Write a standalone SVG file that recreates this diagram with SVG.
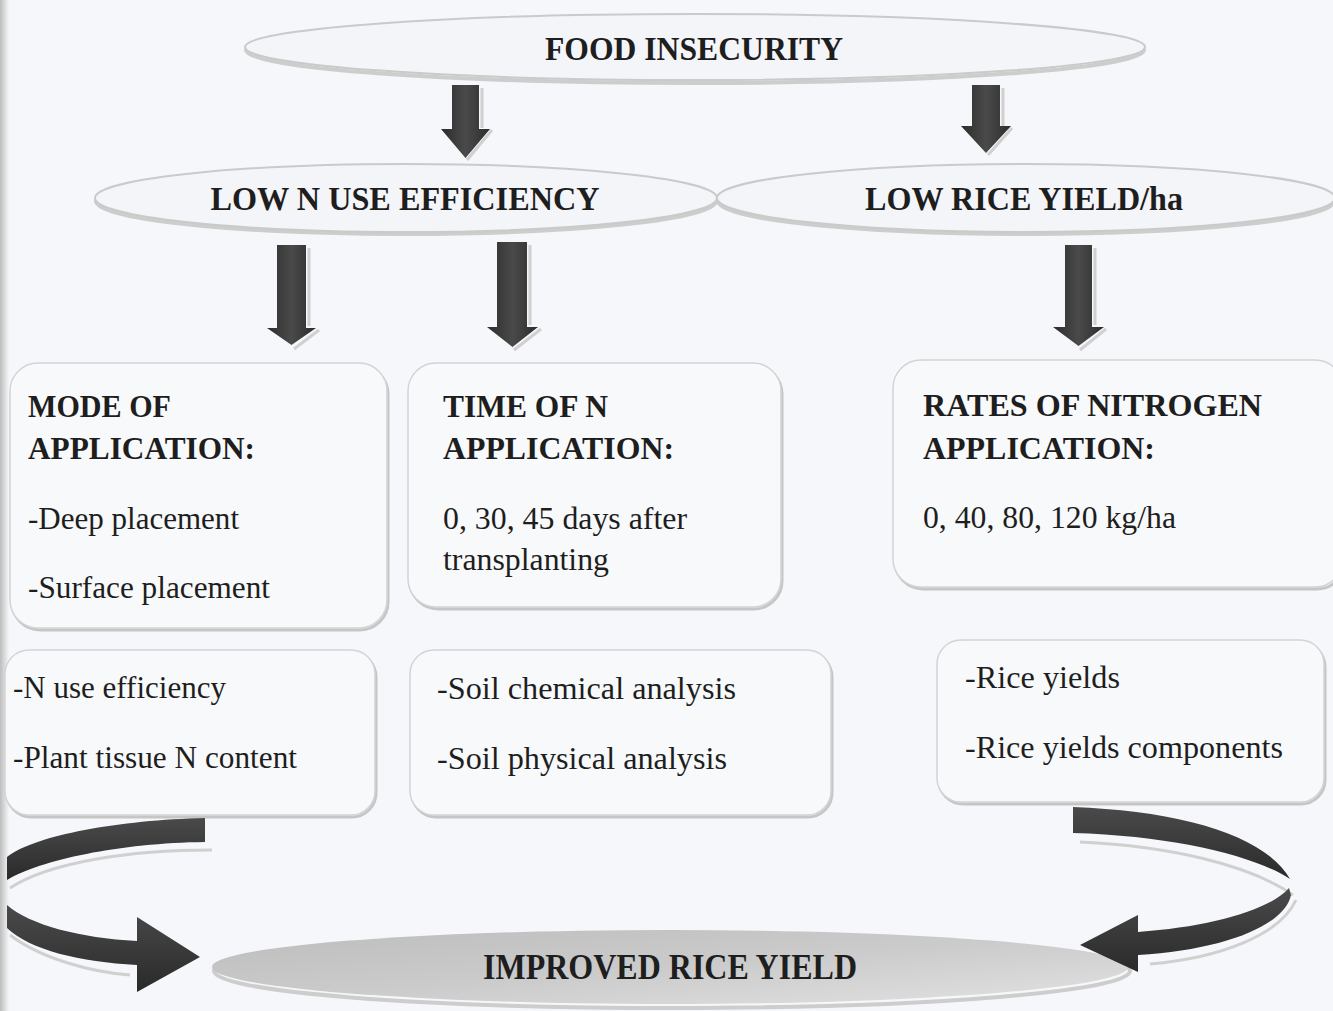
<svg xmlns="http://www.w3.org/2000/svg" width="1333" height="1011" viewBox="0 0 1333 1011">
<defs>
<style>
.hd{font-family:"Liberation Serif","Times New Roman",serif;font-weight:bold;fill:#1e1e1e}
.tx{font-family:"Liberation Serif","Times New Roman",serif;font-size:31px;fill:#1e1e1e}
.bh{font-family:"Liberation Serif","Times New Roman",serif;font-weight:bold;font-size:31px;fill:#1e1e1e}
.ell{fill:#f4f5f9;stroke:#cacaca;stroke-width:2}
.ellsh{fill:none;stroke:#cdcdcd;stroke-width:4}
.box{fill:#f8f9fb;stroke:#d4d4d6;stroke-width:1.5}
.boxsh{fill:none;stroke:#c6c6c6;stroke-width:3}
.arr{fill:url(#ag)}
.carr{fill:url(#cg)}
.sh{fill:none;stroke:#d0d0d0;stroke-width:3}
</style>
<linearGradient id="ag" x1="0" y1="0" x2="1" y2="0">
<stop offset="0" stop-color="#2c2c2c"/>
<stop offset="0.5" stop-color="#4a4a4a"/>
<stop offset="1" stop-color="#2c2c2c"/>
</linearGradient>
<linearGradient id="cg" x1="0" y1="0" x2="0" y2="1">
<stop offset="0" stop-color="#4a4a4a"/>
<stop offset="1" stop-color="#2a2a2a"/>
</linearGradient>
<linearGradient id="bg" x1="0" y1="0" x2="1" y2="1">
<stop offset="0" stop-color="#bdbdbd"/>
<stop offset="0.5" stop-color="#cbcbcb"/>
<stop offset="1" stop-color="#e2e2e2"/>
</linearGradient>
<linearGradient id="edge" x1="0" y1="0" x2="1" y2="0">
<stop offset="0" stop-color="#bdbdbd"/>
<stop offset="1" stop-color="#f6f7fa"/>
</linearGradient>
</defs>
<rect x="0" y="0" width="1333" height="1011" fill="#f6f7fa"/>
<rect x="0" y="0" width="9" height="1011" fill="url(#edge)"/>

<g id="food-insecurity">
<ellipse class="ellsh" cx="695" cy="50" rx="449" ry="33"/>
<ellipse class="ell" cx="695" cy="47" rx="450" ry="33"/>
<text class="hd" x="694" y="60" font-size="34" text-anchor="middle" textLength="298" lengthAdjust="spacingAndGlyphs">FOOD INSECURITY</text>
</g>

<g id="low-n-use-efficiency">
<ellipse class="ellsh" cx="406" cy="201" rx="310" ry="33"/>
<ellipse class="ell" cx="406" cy="198" rx="311" ry="34"/>
<text class="hd" x="405" y="210" font-size="34" text-anchor="middle" textLength="389" lengthAdjust="spacingAndGlyphs">LOW N USE EFFICIENCY</text>
</g>

<g id="low-rice-yield">
<ellipse class="ellsh" cx="1026" cy="201" rx="308" ry="33"/>
<ellipse class="ell" cx="1026" cy="198" rx="309" ry="34"/>
<text class="hd" x="1024" y="210" font-size="34" text-anchor="middle" textLength="318" lengthAdjust="spacingAndGlyphs">LOW RICE YIELD/ha</text>
</g>

<g id="mode-of-application">
<rect class="boxsh" x="12" y="366" width="376" height="264" rx="28"/>
<rect class="box" x="10" y="363" width="377" height="265" rx="28"/>
<text class="bh" x="28" y="417" textLength="143" lengthAdjust="spacingAndGlyphs">MODE OF</text>
<text class="bh" x="28" y="459" textLength="227" lengthAdjust="spacingAndGlyphs">APPLICATION:</text>
<text class="tx" x="28" y="529" textLength="211" lengthAdjust="spacingAndGlyphs">-Deep placement</text>
<text class="tx" x="28" y="598" textLength="242" lengthAdjust="spacingAndGlyphs">-Surface placement</text>
</g>

<g id="time-of-n-application">
<rect class="boxsh" x="410" y="366" width="372" height="243" rx="28"/>
<rect class="box" x="408" y="363" width="373" height="244" rx="28"/>
<text class="bh" x="443" y="417" textLength="165" lengthAdjust="spacingAndGlyphs">TIME OF N</text>
<text class="bh" x="443" y="459" textLength="231" lengthAdjust="spacingAndGlyphs">APPLICATION:</text>
<text class="tx" x="443" y="529" textLength="244" lengthAdjust="spacingAndGlyphs">0, 30, 45 days after</text>
<text class="tx" x="443" y="570" textLength="166" lengthAdjust="spacingAndGlyphs">transplanting</text>
</g>

<g id="rates-of-nitrogen">
<rect class="boxsh" x="895" y="363" width="450" height="226" rx="28"/>
<rect class="box" x="893" y="360" width="450" height="227" rx="28"/>
<text class="bh" x="923" y="416" textLength="339" lengthAdjust="spacingAndGlyphs">RATES OF NITROGEN</text>
<text class="bh" x="923" y="459" textLength="232" lengthAdjust="spacingAndGlyphs">APPLICATION:</text>
<text class="tx" x="923" y="528" textLength="253" lengthAdjust="spacingAndGlyphs">0, 40, 80, 120 kg/ha</text>
</g>

<g id="n-use-box">
<rect class="boxsh" x="7" y="653" width="369" height="164" rx="24"/>
<rect class="box" x="5" y="650" width="370" height="165" rx="24"/>
<text class="tx" x="13" y="698" textLength="213" lengthAdjust="spacingAndGlyphs">-N use efficiency</text>
<text class="tx" x="13" y="768" textLength="284" lengthAdjust="spacingAndGlyphs">-Plant tissue N content</text>
</g>

<g id="soil-analysis-box">
<rect class="boxsh" x="412" y="653" width="420" height="164" rx="24"/>
<rect class="box" x="410" y="650" width="421" height="165" rx="24"/>
<text class="tx" x="437" y="699" textLength="299" lengthAdjust="spacingAndGlyphs">-Soil chemical analysis</text>
<text class="tx" x="437" y="769" textLength="290" lengthAdjust="spacingAndGlyphs">-Soil physical analysis</text>
</g>

<g id="rice-yields-box">
<rect class="boxsh" x="939" y="643" width="386" height="161" rx="24"/>
<rect class="box" x="937" y="640" width="387" height="162" rx="24"/>
<text class="tx" x="965" y="688" textLength="155" lengthAdjust="spacingAndGlyphs">-Rice yields</text>
<text class="tx" x="965" y="758" textLength="318" lengthAdjust="spacingAndGlyphs">-Rice yields components</text>
</g>

<g id="improved-rice-yield">
<ellipse class="ellsh" cx="672" cy="971" rx="458" ry="37"/>
<ellipse cx="670" cy="967" rx="458" ry="37" fill="url(#bg)"/>
<text class="hd" x="670" y="979" font-size="36" text-anchor="middle" textLength="374" lengthAdjust="spacingAndGlyphs">IMPROVED RICE YIELD</text>
</g>

<g id="connectors">
<path class="sh" d="M482,88 V128 M492,130 L467,160"/>
<path class="arr" d="M452,85 H479 V129 H490 L465.5,158 L441,129 H452 Z"/>
<path class="sh" d="M1003,88 V126 M1012,128 L988,155"/>
<path class="arr" d="M972,85 H1000 V126 H1011 L986,153 L961,126 H972 Z"/>
<path class="sh" d="M309,248 V326 M319,330 L294,349"/>
<path class="arr" d="M277,245 H306 V328 H316 L291.5,345 L267,328 H277 Z"/>
<path class="sh" d="M530,245 V325 M541,329 L514,350"/>
<path class="arr" d="M497,242 H527 V327 H538 L512.5,347 L487,327 H497 Z"/>
<path class="sh" d="M1095,248 V325 M1106,329 L1080,350"/>
<path class="arr" d="M1065,245 H1092 V327 H1104 L1078.5,346 L1053,327 H1065 Z"/>
<path class="sh" d="M212,850 C130,850 50,862 10,888"/>
<path class="carr" d="M205,818 C120,820 35,835 7,857 L7,880 C40,860 120,843 205,842 Z"/>
<path class="sh" d="M10,935 C40,958 90,972 130,975"/>
<path class="carr" d="M7,905 C30,925 80,938 137,941 L137,917 L200,957 L137,992 L137,965 C80,962 30,950 7,928 Z"/>
<path class="sh" d="M1080,842 C1170,846 1250,865 1293,895"/>
<path class="carr" d="M1073,807 C1180,811 1265,835 1290,879 C1255,856 1175,836 1073,833 Z"/>
<path class="sh" d="M1296,900 C1280,935 1220,958 1150,964"/>
<path class="carr" d="M1289,888 C1270,910 1210,927 1138,932 L1138,915 L1080,945 L1138,972 L1138,955 C1225,950 1285,925 1291,895 Z"/>
</g>
</svg>
